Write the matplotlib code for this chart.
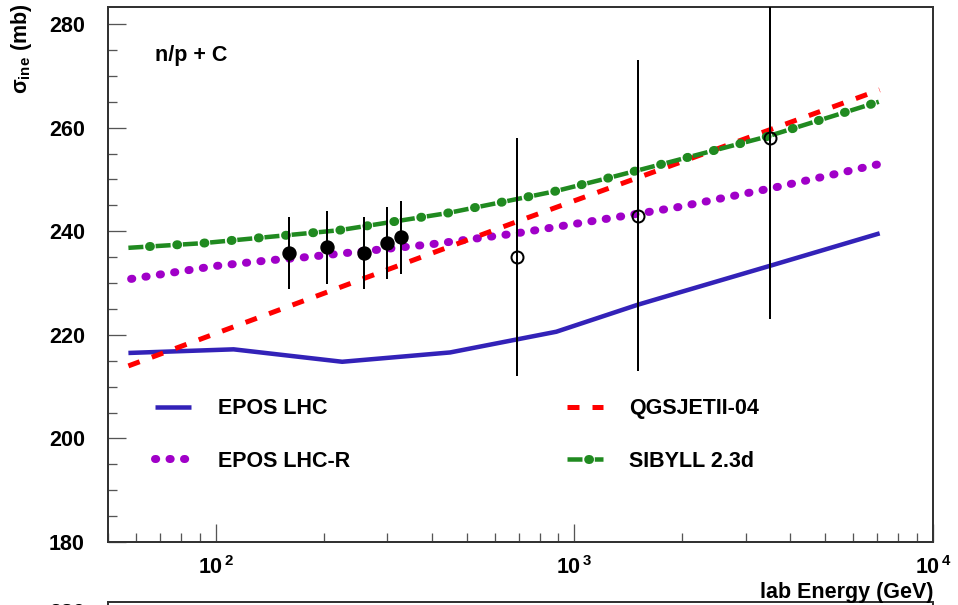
import matplotlib
matplotlib.use("Agg")
import matplotlib.pyplot as plt
from matplotlib.ticker import FixedLocator, MultipleLocator, LogLocator, NullFormatter

plt.rcParams['font.family'] = ['Liberation Sans', 'DejaVu Sans']
plt.rcParams['font.weight'] = 'bold'
plt.rcParams['mathtext.fontset'] = 'custom'
plt.rcParams['mathtext.rm'] = 'Liberation Sans:bold'
plt.rcParams['mathtext.it'] = 'Liberation Sans:bold'
plt.rcParams['mathtext.bf'] = 'Liberation Sans:bold'

# model curves (lab energy in GeV, inelastic cross section in mb)
epos_e = [57, 112, 225, 450, 890, 1500, 1900, 3500, 7100]
epos_s = [216.5, 217.2, 214.8, 216.6, 220.6, 225.8, 227.9, 233.3, 239.6]

eposr_e = [58, 100, 141, 167, 400, 689, 1253, 1924, 3540, 5000, 7000]
eposr_s = [230.8, 233.3, 234.4, 234.8, 237.5, 239.6, 242.5, 244.6, 248.3, 250.6, 252.9]

qgs_e = [57, 700, 7100]
qgs_s = [214.0, 242.0, 267.3]

sib_e = [57, 92, 221, 442, 625, 880, 1230, 1740, 3450, 7060]
sib_s = [236.8, 237.7, 240.2, 243.5, 245.6, 247.7, 250.2, 252.9, 258.3, 265.0]

# measurements
fill_e = [160, 204, 259, 300, 328]
fill_s = [235.8, 236.9, 235.8, 237.7, 238.8]
fill_err = [7, 7, 7, 7, 7]

open_e = [693, 1500, 3500]
open_s = [235.0, 243.0, 258.0]
open_err = [23, 30, 35]

W, H = 958, 605
fig = plt.figure(figsize=(W / 100, H / 100), dpi=100)
ax = fig.add_axes([108 / W, 1 - 542 / H, 825 / W, 535 / H])

px = 72 / 100  # points per pixel

blue = '#3322b8'
purple = '#a000c8'
red = '#ff0000'
green = '#208a20'

l_epos, = ax.plot(epos_e, epos_s, color=blue, lw=4.5 * px, solid_capstyle='butt')

l_eposr, = ax.plot(eposr_e, eposr_s, color=purple, lw=8 * px,
                   linestyle=(0, (0.15, 14.5 / 8 - 0.15)), dash_capstyle='round')

l_qgs, = ax.plot(qgs_e, qgs_s, color=red, lw=5 * px,
                 linestyle=(0, (12 / 5, 13 / 5)), dash_capstyle='butt')

l_sib1, = ax.plot(sib_e, sib_s, color=green, lw=4.5 * px,
                  linestyle=(0, (15 / 4.5, 12.3 / 4.5)), dash_capstyle='butt')
l_sib2, = ax.plot(sib_e, sib_s, color=green, lw=9 * px,
                  linestyle=(6.15 / 9, (0.1, 27.3 / 9 - 0.1)), dash_capstyle='round')

ax.errorbar(fill_e, fill_s, yerr=fill_err, fmt='o', color='black', ms=13 * px,
            elinewidth=2 * px, capsize=0, zorder=5)
ax.errorbar(open_e, open_s, yerr=open_err, fmt='o', mfc='none', mec='black',
            ecolor='black', ms=12 * px, mew=2 * px, elinewidth=2 * px,
            capsize=0, zorder=5)

ax.set_xscale('log')
ax.set_xlim(50, 10000)
ax.set_ylim(180, 283.3)

ax.yaxis.set_major_locator(MultipleLocator(20))
ax.yaxis.set_minor_locator(MultipleLocator(5))
ax.xaxis.set_major_locator(FixedLocator([100, 1000, 10000]))
ax.xaxis.set_minor_locator(LogLocator(base=10, subs=range(2, 10)))
ax.xaxis.set_minor_formatter(NullFormatter())
ax.set_xticklabels([r'$10^{\,2}$', r'$10^{\,3}$', r'$10^{\,4}$'])

for s in ax.spines.values():
    s.set_linewidth(2 * px)
    s.set_color('#333333')

ax.tick_params(axis='both', which='major', direction='in', length=18 * px,
               width=1.3 * px, color='#555555', labelsize=15.5,
               top=False, right=False)
ax.tick_params(axis='both', which='minor', direction='in', length=9 * px,
               width=1.3 * px, color='#555555', top=False, right=False)
ax.tick_params(axis='y', which='major', pad=23 * px)
ax.tick_params(axis='x', which='major', pad=14 * px)

ax.text(155 / W, 1 - 55 / H, 'n/p + C', transform=fig.transFigure,
        fontsize=15.5, fontweight='bold', va='center', ha='left')

fig.text(22 / W, 1 - 4 / H, r'$\sigma_{ine}$ (mb)', rotation=90,
         fontsize=15.5, fontweight='bold', ha='center', va='top')
fig.text(933 / W, 1 - 598 / H, 'lab Energy (GeV)', fontsize=15.5,
         fontweight='bold', ha='right', va='baseline')

fs = 15.5
fpx = fs / px
leg1 = ax.legend([l_epos, l_eposr], ['EPOS LHC', 'EPOS LHC-R'],
                 loc='center left', bbox_to_anchor=(155 / W, 1 - 435 / H),
                 bbox_transform=fig.transFigure, frameon=False, fontsize=fs,
                 borderpad=0, borderaxespad=0, handlelength=36 / fpx,
                 handletextpad=27 / fpx, labelspacing=1.45)
ax.add_artist(leg1)
ax.legend([l_qgs, (l_sib1, l_sib2)], ['QGSJETII-04', 'SIBYLL 2.3d'],
          loc='center left', bbox_to_anchor=(567 / W, 1 - 435 / H),
          bbox_transform=fig.transFigure, frameon=False, fontsize=fs,
          borderpad=0, borderaxespad=0, handlelength=36 / fpx,
          handletextpad=26 / fpx, labelspacing=1.45)

# top edge of the next panel, cut off by the image border
ax2 = fig.add_axes([108 / W, 1 - 602 / H - 1.0, 825 / W, 1.0])
ax2.set_xscale('log')
ax2.set_xlim(50, 10000)
ax2.set_ylim(180, 281.5)
ax2.set_yticks([280])
ax2.set_xticks([])
ax2.tick_params(axis='y', direction='in', length=18 * px, width=1.3 * px,
                color='#555555', labelsize=15.5, pad=23 * px, right=False)
for s in ax2.spines.values():
    s.set_linewidth(2 * px)
    s.set_color('#333333')

fig.savefig('out.png', dpi=100)
